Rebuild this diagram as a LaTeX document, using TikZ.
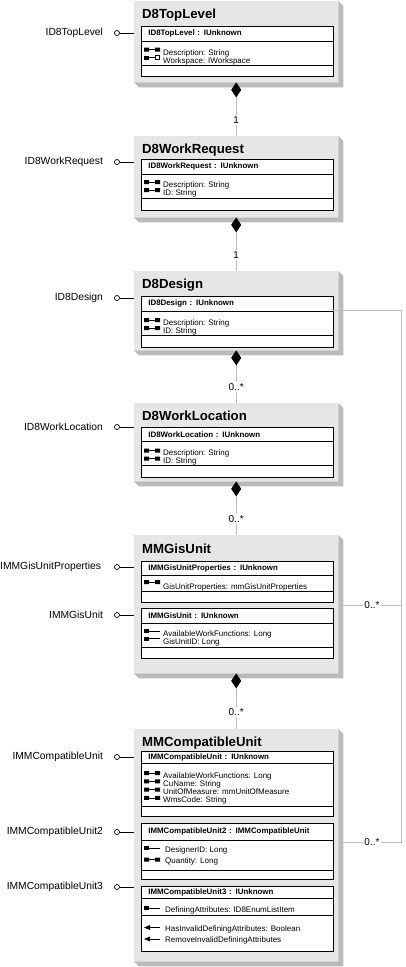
\documentclass[tikz,border=0pt]{standalone}
\usepackage{fontspec}
\setmainfont{Liberation Sans}
\usetikzlibrary{arrows.meta,positioning}
\definecolor{boxgray}{RGB}{230,230,230}
\definecolor{shadegray}{RGB}{186,186,186}
\definecolor{linegray}{RGB}{188,188,188}

% small member icons (x, y of icon centre line)
\newcommand{\propRW}[2]{\fill (#1,#2-2) rectangle (#1+5,#2+2) (#1+11,#2-2) rectangle (#1+16,#2+2);
  \draw[icon] (#1+5,#2) -- (#1+11,#2);}
\newcommand{\propRef}[2]{\fill (#1,#2-2) rectangle (#1+5,#2+2);
  \draw[icon] (#1+5,#2) -- (#1+11.3,#2) (#1+11.3,#2-1.7) rectangle (#1+15.7,#2+1.7);}
\newcommand{\propRO}[2]{\fill (#1,#2-2) rectangle (#1+5,#2+2);
  \draw[icon] (#1+5,#2) -- (#1+16,#2);}
\newcommand{\methodIc}[2]{\fill (#1,#2) -- (#1+6,#2-2.5) -- (#1+6,#2+2.5) -- cycle;
  \draw[icon] (#1+6,#2) -- (#1+16,#2);}

\begin{document}
\begin{tikzpicture}[x=1pt,y=-1pt,
  cls/.style={fill=boxgray,anchor=north west,inner sep=0pt,minimum width=204pt},
  sect/.style={draw=black,fill=white,line width=0.7pt,anchor=north west,inner sep=0pt,minimum width=191.5pt},
  hdr/.style={sect,text width=177.5pt,inner xsep=7pt,align=left,font=\fontsize{7.9}{9}\selectfont\bfseries},
  ttl/.style={anchor=base west,inner sep=0pt,font=\fontsize{13.2}{15}\selectfont\bfseries},
  att/.style={anchor=base west,inner sep=0pt,font=\fontsize{8}{9}\selectfont},
  lolly/.style={circle,draw=black,fill=white,line width=0.7pt,inner sep=0pt,minimum size=5pt},
  lbl/.style={inner sep=0pt,font=\fontsize{10.3}{12}\selectfont},
  icon/.style={line width=0.7pt},
  link/.style={draw=linegray,line width=0.9pt},
  comp/.style={link,{Diamond[length=15pt,width=10pt,color=black,fill=black]}-},
  mult/.style={fill=white,inner sep=1.5pt,font=\fontsize{10}{12}\selectfont}
]
\useasboundingbox (0,0) rectangle (406,967);

% class boxes
\node[cls,minimum height=81pt] (top) at (134,1) {};
\node[cls,minimum height=81pt] (req) at (134,136) {};
\node[cls,minimum height=79pt] (des) at (134,271) {};
\node[cls,minimum height=78pt] (loc) at (134,403) {};
\node[cls,minimum height=138pt] (gis) at (134,535) {};
\node[cls,minimum height=232pt] (cu) at (134,729) {};
\foreach \c in {top,req,des,loc,gis,cu}
  \fill[shadegray] (\c.north east) -- ++(5,5) |- ([shift={(5,5)}]\c.south west) -- (\c.south west) -- (\c.south east) -- cycle;

% D8TopLevel
\node[ttl] (topT) at (142,18) {D8TopLevel};
\node[hdr,minimum height=15pt] (topH) at (141,26) {ID8TopLevel : IUnknown};
\node[sect,minimum height=24pt] (topA) at (141,41) {};
\node[sect,minimum height=11pt] (topB) at (141,65) {};
\propRW{144}{49.5} \node[att] (topA1) at (163,55) {Description: String};
\propRef{144}{57.5} \node[att] (topA2) at (163,63) {Workspace: IWorkspace};

% D8WorkRequest
\node[ttl] (reqT) at (142,153) {D8WorkRequest};
\node[hdr,minimum height=15pt] (reqH) at (141,159) {ID8WorkRequest : IUnknown};
\node[sect,minimum height=24pt] (reqA) at (141,174) {};
\node[sect,minimum height=12pt] (reqB) at (141,198) {};
\propRW{144}{182} \node[att] (reqA1) at (163,187.5) {Description: String};
\propRW{144}{190} \node[att] (reqA2) at (163,195.5) {ID: String};

% D8Design
\node[ttl] (desT) at (142,288) {D8Design};
\node[hdr,minimum height=15pt] (desH) at (141,296) {ID8Design : IUnknown};
\node[sect,minimum height=24pt] (desA) at (141,311) {};
\node[sect,minimum height=12pt] (desB) at (141,335) {};
\propRW{144}{320} \node[att] (desA1) at (163,325) {Description: String};
\propRW{144}{328} \node[att] (desA2) at (163,333) {ID: String};

% D8WorkLocation
\node[ttl] (locT) at (142,420) {D8WorkLocation};
\node[hdr,minimum height=14pt] (locH) at (141,427) {ID8WorkLocation : IUnknown};
\node[sect,minimum height=24pt] (locA) at (141,441) {};
\node[sect,minimum height=12pt] (locB) at (141,465) {};
\propRW{144}{450.5} \node[att] (locA1) at (163,455) {Description: String};
\propRW{144}{458.5} \node[att] (locA2) at (163,463) {ID: String};

% MMGisUnit
\node[ttl] (gisT) at (142,553) {MMGisUnit};
\node[hdr,minimum height=14pt] (gisH) at (141,561) {IMMGisUnitProperties : IUnknown};
\node[sect,minimum height=16pt] (gisA) at (141,575) {};
\node[sect,minimum height=11pt] (gisB) at (141,591) {};
\propRW{144}{582} \node[att] (gisA1) at (163,589) {GisUnitProperties: mmGisUnitProperties};
\node[hdr,minimum height=15pt] (gisH2) at (141,608) {IMMGisUnit : IUnknown};
\node[sect,minimum height=24pt] (gisA2) at (141,623) {};
\node[sect,minimum height=11pt] (gisB2) at (141,647) {};
\propRO{144}{631} \node[att] (gisA21) at (163,636.5) {AvailableWorkFunctions: Long};
\propRO{144}{638.5} \node[att] (gisA22) at (163,644) {GisUnitID: Long};

% MMCompatibleUnit
\node[ttl] (cuT) at (142,746) {MMCompatibleUnit};
\node[hdr,minimum height=12pt] (cuH) at (141,751) {IMMCompatibleUnit : IUnknown};
\node[sect,minimum height=43pt] (cuA) at (141,763) {};
\node[sect,minimum height=10pt] (cuB) at (141,806) {};
\propRW{144}{773} \node[att] (cuA1) at (163,778) {AvailableWorkFunctions: Long};
\propRW{144}{781.3} \node[att] (cuA2) at (163,786.3) {CuName: String};
\propRW{144}{789.6} \node[att] (cuA3) at (163,794.6) {UnitOfMeasure: mmUnitOfMeasure};
\propRW{144}{797.9} \node[att] (cuA4) at (163,802.9) {WmsCode: String};
\node[hdr,minimum height=17pt] (cuH2) at (141,823) {IMMCompatibleUnit2 : IMMCompatibleUnit};
\node[sect,minimum height=30pt] (cuA2b) at (141,840) {};
\node[sect,minimum height=9pt] (cuB2) at (141,870) {};
\propRO{144}{848} \node[att] (cuA21) at (165,852.7) {DesignerID: Long};
\propRW{144}{859.5} \node[att] (cuA22) at (165,863.5) {Quantity: Long};
\node[hdr,minimum height=12pt] (cuH3) at (141,886) {IMMCompatibleUnit3 : IUnknown};
\node[sect,minimum height=17pt] (cuA3b) at (141,898) {};
\node[sect,minimum height=36pt] (cuM3) at (141,915) {};
\propRO{144}{908} \node[att] (cuA31) at (165,912) {DefiningAttributes: ID8EnumListItem};
\methodIc{144}{927.5} \node[att] (cuM1) at (165,931) {HasInvalidDefiningAttributes: Boolean};
\methodIc{144}{939} \node[att] (cuM2) at (165,942.7) {RemoveInvalidDefiningAttributes};

% interfaces (lollipops)
\node[lolly] (topO) at (117,33) {};
\node[lolly] (reqO) at (117,162) {};
\node[lolly] (desO) at (117,298) {};
\node[lolly] (locO) at (117,427) {};
\node[lolly] (gisO) at (117,567) {};
\node[lolly] (gisO2) at (117,615) {};
\node[lolly] (cuO) at (117,757) {};
\node[lolly] (cuO2) at (117,832) {};
\node[lolly] (cuO3) at (117,887) {};
\node[lbl,left=11pt of topO] (topL) {ID8TopLevel};
\node[lbl,left=11pt of reqO] (reqL) {ID8WorkRequest};
\node[lbl,left=11pt of desO] (desL) {ID8Design};
\node[lbl,left=11pt of locO] (locL) {ID8WorkLocation};
\node[lbl,left=13pt of gisO] (gisL) {IMMGisUnitProperties};
\node[lbl,left=11pt of gisO2] (gisL2) {IMMGisUnit};
\node[lbl,left=11pt of cuO] (cuL) {IMMCompatibleUnit};
\node[lbl,left=11pt of cuO2] (cuL2) {IMMCompatibleUnit2};
\node[lbl,left=11pt of cuO3] (cuL3) {IMMCompatibleUnit3};
\foreach \o/\c in {topO/top,reqO/req,desO/des,locO/loc,gisO/gis,gisO2/gis,cuO/cu,cuO2/cu,cuO3/cu}
  \draw[line width=0.7pt] (\o) -- (\o -| \c.west);

% composition
\draw[comp] (top.south) -- (req.north) node[mult,pos=0.7] (m1) {1};
\draw[comp] (req.south) -- (des.north) node[mult,pos=0.7] (m2) {1};
\draw[comp] (des.south) -- (loc.north) node[mult,pos=0.7] (m3) {0..*};
\draw[comp] (loc.south) -- (gis.north) node[mult,pos=0.7] (m4) {0..*};
\draw[comp] (gis.south) -- (cu.north) node[mult,pos=0.7] (m5) {0..*};

% association from D8Design
\coordinate (jn) at (401,605);
\coordinate (bend) at (401,842);
\coordinate (gisR) at (343,605);
\coordinate (cuR) at (343,842);
\draw[link] ([yshift=1.5pt]desH.south east) -| (bend) -- node[mult] (m6) {0..*} (cuR);
\draw[link] (jn) -- node[mult] (m7) {0..*} (gisR);
\end{tikzpicture}
\end{document}
